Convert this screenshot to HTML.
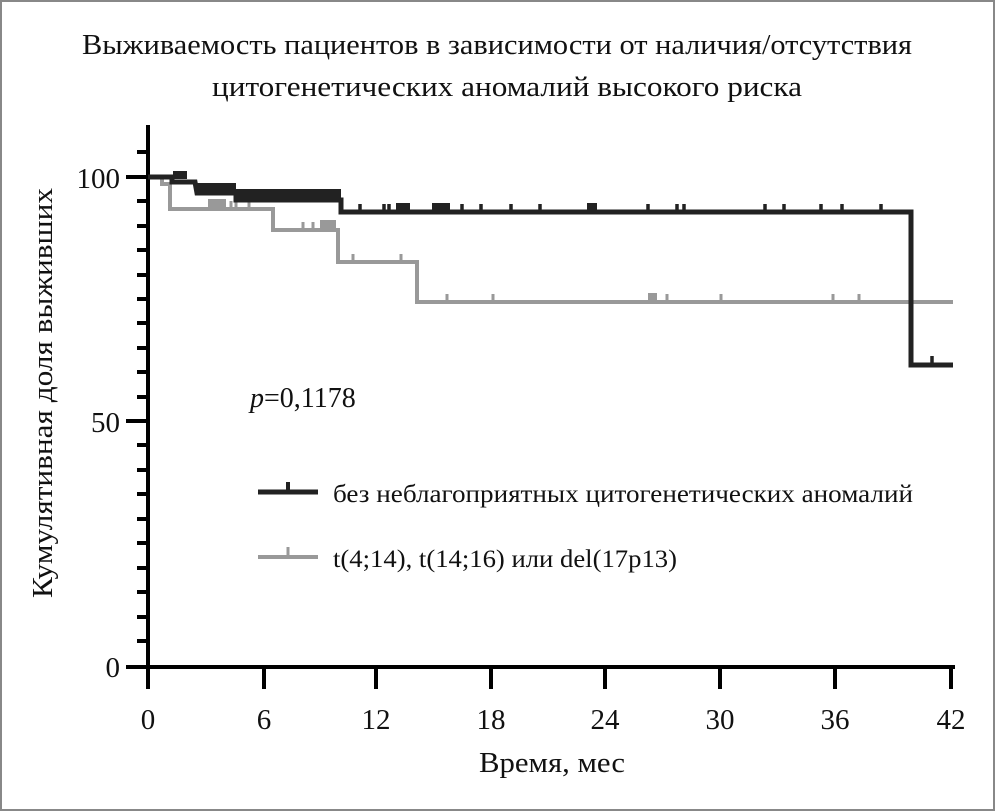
<!DOCTYPE html>
<html><head><meta charset="utf-8"><style>
html,body{margin:0;padding:0;background:#fff}
svg{display:block}
text{font-family:"Liberation Serif","DejaVu Serif",serif;fill:#111}
</style></head><body>
<svg width="995" height="811" viewBox="0 0 995 811" xmlns="http://www.w3.org/2000/svg">
<rect x="1" y="1" width="993" height="809" fill="#fff" stroke="#888" stroke-width="2"/>
<text x="497" y="54" font-size="29" text-anchor="middle" textLength="830" lengthAdjust="spacingAndGlyphs">Выживаемость пациентов в зависимости от наличия/отсутствия</text>
<text x="507" y="96" font-size="29" text-anchor="middle" textLength="590" lengthAdjust="spacingAndGlyphs">цитогенетических аномалий высокого риска</text>
<text transform="translate(52,393) rotate(-90)" font-size="29" text-anchor="middle" textLength="410" lengthAdjust="spacingAndGlyphs">Кумулятивная доля выживших</text>
<text x="552" y="772" font-size="28" text-anchor="middle" textLength="146" lengthAdjust="spacingAndGlyphs">Время, мес</text>
<g stroke="#000" stroke-width="4">
<line x1="148" y1="125" x2="148" y2="669"/>
<line x1="126" y1="667" x2="955" y2="667"/>
<line x1="126" y1="177" x2="148" y2="177"/>
<line x1="126" y1="421" x2="148" y2="421"/>
</g>
<g stroke="#000" stroke-width="4">
<line x1="137" y1="152" x2="148" y2="152"/><line x1="137" y1="201" x2="148" y2="201"/><line x1="137" y1="226" x2="148" y2="226"/><line x1="137" y1="250" x2="148" y2="250"/><line x1="137" y1="275" x2="148" y2="275"/><line x1="137" y1="299" x2="148" y2="299"/><line x1="137" y1="323" x2="148" y2="323"/><line x1="137" y1="348" x2="148" y2="348"/><line x1="137" y1="372" x2="148" y2="372"/><line x1="137" y1="397" x2="148" y2="397"/><line x1="137" y1="445" x2="148" y2="445"/><line x1="137" y1="470" x2="148" y2="470"/><line x1="137" y1="494" x2="148" y2="494"/><line x1="137" y1="519" x2="148" y2="519"/><line x1="137" y1="543" x2="148" y2="543"/><line x1="137" y1="568" x2="148" y2="568"/><line x1="137" y1="592" x2="148" y2="592"/><line x1="137" y1="617" x2="148" y2="617"/><line x1="137" y1="641" x2="148" y2="641"/>
<line x1="148" y1="667" x2="148" y2="689"/><line x1="264" y1="667" x2="264" y2="689"/><line x1="376" y1="667" x2="376" y2="689"/><line x1="491" y1="667" x2="491" y2="689"/><line x1="605" y1="667" x2="605" y2="689"/><line x1="720" y1="667" x2="720" y2="689"/><line x1="835" y1="667" x2="835" y2="689"/><line x1="951" y1="667" x2="951" y2="689"/>
</g>
<g font-size="29" text-anchor="end">
<text x="120" y="188">100</text><text x="120" y="432">50</text><text x="120" y="677">0</text>
</g>
<g font-size="29" text-anchor="middle">
<text x="148" y="729">0</text><text x="264" y="729">6</text><text x="376" y="729">12</text><text x="491" y="729">18</text><text x="605" y="729">24</text><text x="720" y="729">30</text><text x="835" y="729">36</text><text x="951" y="729">42</text>
</g>
<g fill="none" stroke="#999" stroke-width="4">
<polyline points="148,177 162,177 162,184 170,184 170,209 273,209 273,230 338,230 338,262 417,262 417,302 953,302"/>
<g stroke-width="3">
<path d="M231,209v-8M236,209v-8M249,209v-8M303,230v-8M313,230v-8M353,262v-8M401,262v-8M447,302v-8M493,302v-8M667,302v-8M721,302v-8M833,302v-8M859,302v-8"/>
</g>
</g>
<rect x="208" y="199" width="18" height="10" fill="#999"/>
<rect x="320" y="220" width="16" height="10" fill="#999"/>
<rect x="648" y="293" width="9" height="9" fill="#999"/>
<g fill="none" stroke="#222" stroke-width="5">
<polyline points="148,177 172,177 172,182 195,182 197,193 236,193 236,200 341,200 341,212 911,212 911,365 953,365"/>
<g stroke-width="3.5">
<path d="M360,212v-8M384,212v-8M389,212v-8M462,212v-8M481,212v-8M511,212v-8M540,212v-8M648,212v-8M677,212v-8M684,212v-8M765,212v-8M784,212v-8M821,212v-8M842,212v-8M881,212v-8M932,365v-9"/>
</g>
</g>
<g fill="#222">
<rect x="173" y="171" width="14" height="8"/>
<rect x="197" y="183" width="39" height="12"/>
<rect x="236" y="189" width="105" height="12"/>
<rect x="396" y="203" width="14" height="10"/>
<rect x="432" y="203" width="18" height="10"/>
<rect x="587" y="203" width="10" height="10"/>
</g>
<text x="250" y="407" font-size="28"><tspan font-style="italic">p</tspan>=0,1178</text>
<line x1="258" y1="492" x2="318" y2="492" stroke="#222" stroke-width="5"/>
<line x1="288" y1="492" x2="288" y2="482" stroke="#222" stroke-width="4"/>
<text x="333" y="502" font-size="25" textLength="580" lengthAdjust="spacingAndGlyphs">без неблагоприятных цитогенетических аномалий</text>
<line x1="258" y1="557" x2="318" y2="557" stroke="#999" stroke-width="4"/>
<line x1="288" y1="557" x2="288" y2="547" stroke="#999" stroke-width="3"/>
<text x="333" y="567" font-size="25" textLength="344" lengthAdjust="spacingAndGlyphs">t(4;14), t(14;16) или del(17p13)</text>
</svg>
</body></html>
